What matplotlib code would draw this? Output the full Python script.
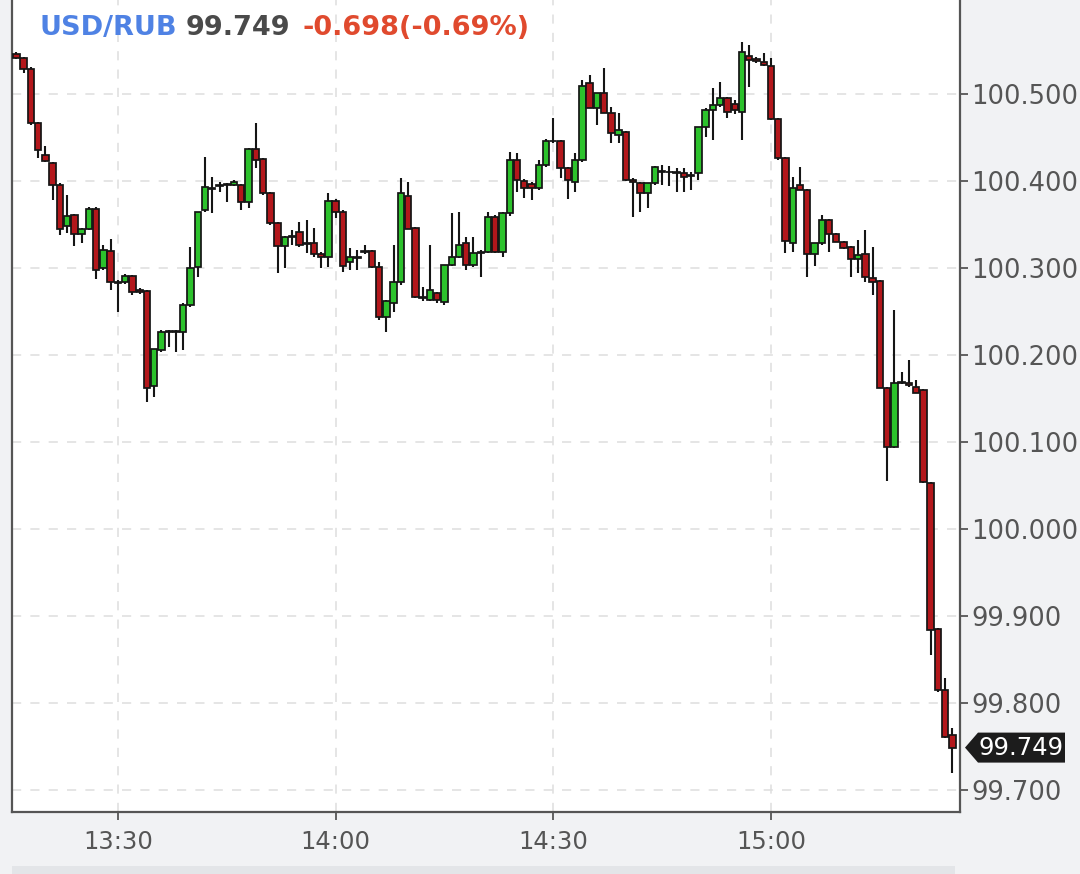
import matplotlib
matplotlib.use("Agg")
import matplotlib.pyplot as plt
from matplotlib.patches import Polygon, Rectangle
import numpy as np

# ---------------- data ----------------
symbol = "USD/RUB"
last_price_text = "99.749"
change_text = "-0.698(-0.69%)"
start_hour, start_min = 13, 16   # first 1-minute candle

opens = [100.546, 100.541, 100.529, 100.467, 100.430, 100.421, 100.395, 100.348, 100.361, 100.339,
         100.345, 100.368, 100.300, 100.320, 100.284, 100.284, 100.291, 100.275, 100.274, 100.164,
         100.206, 100.226, 100.228, 100.226, 100.257, 100.301, 100.367, 100.392, 100.394, 100.396,
         100.396, 100.395, 100.376, 100.437, 100.425, 100.386, 100.352, 100.325, 100.336, 100.341,
         100.328, 100.329, 100.316, 100.313, 100.377, 100.364, 100.307, 100.313, 100.318, 100.320,
         100.301, 100.244, 100.260, 100.284, 100.383, 100.346, 100.267, 100.263, 100.271, 100.261,
         100.303, 100.313, 100.329, 100.303, 100.317, 100.318, 100.359, 100.318, 100.363, 100.424,
         100.400, 100.397, 100.392, 100.418, 100.446, 100.446, 100.415, 100.399, 100.424, 100.513,
         100.484, 100.501, 100.478, 100.453, 100.456, 100.401, 100.398, 100.386, 100.398, 100.410,
         100.410, 100.410, 100.409, 100.407, 100.409, 100.462, 100.482, 100.487, 100.495, 100.489,
         100.479, 100.544, 100.540, 100.537, 100.532, 100.471, 100.426, 100.329, 100.395, 100.390,
         100.316, 100.329, 100.355, 100.339, 100.330, 100.324, 100.310, 100.316, 100.289, 100.285,
         100.162, 100.094, 100.168, 100.168, 100.163, 100.160, 100.053, 99.885, 99.815, 99.763]
highs = [100.548, 100.542, 100.531, 100.468, 100.440, 100.422, 100.398, 100.384, 100.362, 100.346,
         100.370, 100.370, 100.326, 100.333, 100.286, 100.293, 100.292, 100.277, 100.275, 100.207,
         100.229, 100.229, 100.229, 100.260, 100.324, 100.364, 100.428, 100.405, 100.399, 100.398,
         100.401, 100.397, 100.438, 100.467, 100.426, 100.387, 100.353, 100.337, 100.344, 100.353,
         100.355, 100.346, 100.318, 100.386, 100.379, 100.367, 100.323, 100.321, 100.326, 100.321,
         100.307, 100.263, 100.326, 100.403, 100.399, 100.347, 100.278, 100.326, 100.272, 100.304,
         100.363, 100.364, 100.336, 100.336, 100.321, 100.364, 100.361, 100.364, 100.433, 100.432,
         100.402, 100.399, 100.424, 100.448, 100.472, 100.447, 100.416, 100.432, 100.516, 100.522,
         100.501, 100.530, 100.485, 100.478, 100.457, 100.403, 100.399, 100.398, 100.417, 100.418,
         100.417, 100.415, 100.415, 100.410, 100.462, 100.484, 100.507, 100.514, 100.497, 100.493,
         100.560, 100.556, 100.543, 100.547, 100.541, 100.472, 100.428, 100.405, 100.416, 100.391,
         100.329, 100.361, 100.356, 100.340, 100.331, 100.325, 100.332, 100.344, 100.324, 100.286,
         100.163, 100.252, 100.180, 100.194, 100.171, 100.161, 100.054, 99.886, 99.829, 99.771]
lows = [100.540, 100.524, 100.464, 100.426, 100.422, 100.378, 100.338, 100.340, 100.325, 100.329,
        100.344, 100.287, 100.298, 100.275, 100.249, 100.282, 100.269, 100.270, 100.146, 100.152,
        100.203, 100.209, 100.203, 100.206, 100.255, 100.290, 100.364, 100.363, 100.387, 100.376,
        100.394, 100.367, 100.369, 100.415, 100.384, 100.350, 100.294, 100.300, 100.326, 100.324,
        100.317, 100.313, 100.300, 100.301, 100.357, 100.295, 100.298, 100.298, 100.316, 100.300,
        100.240, 100.226, 100.249, 100.281, 100.345, 100.266, 100.262, 100.262, 100.260, 100.257,
        100.302, 100.312, 100.298, 100.301, 100.290, 100.317, 100.317, 100.313, 100.360, 100.387,
        100.380, 100.378, 100.390, 100.416, 100.444, 100.403, 100.379, 100.387, 100.422, 100.484,
        100.464, 100.478, 100.444, 100.444, 100.400, 100.359, 100.364, 100.369, 100.395, 100.395,
        100.394, 100.387, 100.387, 100.390, 100.401, 100.451, 100.447, 100.485, 100.472, 100.477,
        100.447, 100.508, 100.536, 100.532, 100.470, 100.424, 100.317, 100.318, 100.390, 100.290,
        100.302, 100.326, 100.318, 100.330, 100.322, 100.290, 100.294, 100.284, 100.269, 100.162,
        100.055, 100.093, 100.167, 100.163, 100.157, 100.053, 99.855, 99.813, 99.760, 99.720]
closes = [100.541, 100.529, 100.467, 100.436, 100.423, 100.395, 100.345, 100.360, 100.339, 100.345,
          100.368, 100.298, 100.321, 100.284, 100.283, 100.291, 100.272, 100.272, 100.162, 100.207,
          100.226, 100.228, 100.226, 100.257, 100.300, 100.364, 100.393, 100.391, 100.395, 100.397,
          100.399, 100.376, 100.437, 100.424, 100.386, 100.352, 100.325, 100.336, 100.337, 100.326,
          100.329, 100.316, 100.313, 100.377, 100.364, 100.302, 100.313, 100.312, 100.320, 100.301,
          100.244, 100.262, 100.284, 100.386, 100.345, 100.267, 100.266, 100.275, 100.263, 100.303,
          100.313, 100.326, 100.303, 100.317, 100.318, 100.359, 100.318, 100.363, 100.424, 100.401,
          100.392, 100.392, 100.418, 100.446, 100.446, 100.415, 100.401, 100.424, 100.509, 100.484,
          100.501, 100.478, 100.455, 100.459, 100.401, 100.399, 100.386, 100.398, 100.416, 100.411,
          100.410, 100.409, 100.405, 100.406, 100.462, 100.482, 100.487, 100.495, 100.479, 100.482,
          100.548, 100.539, 100.538, 100.533, 100.471, 100.426, 100.331, 100.392, 100.390, 100.316,
          100.329, 100.355, 100.339, 100.330, 100.323, 100.310, 100.315, 100.290, 100.284, 100.162,
          100.094, 100.168, 100.169, 100.166, 100.157, 100.054, 99.884, 99.815, 99.761, 99.749]

y_ticks = [99.7, 99.8, 99.9, 100.0, 100.1, 100.2, 100.3, 100.4, 100.5]
x_tick_labels = ["13:30", "14:00", "14:30", "15:00"]

# ---------------- figure ----------------
W, H = 1080, 874
fig = plt.figure(figsize=(W / 100, H / 100), dpi=100, facecolor="#f1f2f4")
ax = fig.add_axes([12 / W, 1 - 812 / H, 948 / W, 812 / H])
ax.set_facecolor("white")

o = np.array(opens); h = np.array(highs); l = np.array(lows); c = np.array(closes)
t0 = start_hour * 60 + start_min
x = t0 + np.arange(len(o))

RED = "#b3171b"
GREEN = "#2cc22c"
cols = [GREEN if cc >= oo else RED for oo, cc in zip(o, c)]

ax.vlines(x, l, h, color="#151515", linewidth=1.5, zorder=2)
bottoms = np.minimum(o, c)
heights = np.maximum(np.abs(c - o), 0.0004)
ax.bar(x, heights, bottom=bottoms, width=0.88, color=cols, edgecolor="#151515",
       linewidth=1.25, zorder=3)

ax.set_xlim(795.4, 926.05)
ax.set_ylim(99.675, 100.608)

def hm_to_min(s):
    hh, mm = s.split(":")
    return int(hh) * 60 + int(mm)

ax.set_xticks([hm_to_min(s) for s in x_tick_labels])
ax.set_xticklabels(x_tick_labels)
ax.yaxis.tick_right()
ax.set_yticks(y_ticks)
ax.set_yticklabels([f"{v:.3f}" for v in y_ticks])

ax.tick_params(axis="both", colors="#555555", labelcolor="#555555", labelsize=17.5,
               length=6, width=1.3)
ax.tick_params(axis="y", pad=2, labelsize=18.5)
ax.tick_params(axis="x", pad=7)
ax.grid(True, color="#dedede", linestyle=(0, (6, 6)), linewidth=1.1)
ax.set_axisbelow(True)

for side in ["left", "right", "bottom"]:
    ax.spines[side].set_color("#555555")
    ax.spines[side].set_linewidth(1.6)
ax.spines["top"].set_visible(False)

# header
hy = 1 - 28 / H
fig.text(40 / W, hy, symbol, color="#4f82e4", fontsize=19.5, fontweight="bold", va="center")
fig.text(186 / W, hy, last_price_text, color="#4a4a4a", fontsize=19.5, fontweight="bold", va="center")
fig.text(302 / W, hy, change_text, color="#e04a2e", fontsize=19.5, fontweight="bold", va="center")

# current price marker
fig.canvas.draw()
ydisp = ax.transData.transform((x[-1], c[-1]))[1]
yf = ydisp / fig.bbox.height
hh = 15 / H
poly = Polygon([(965 / W, yf), (978 / W, yf + hh), (1065 / W, yf + hh),
                (1065 / W, yf - hh), (978 / W, yf - hh)], closed=True,
               transform=fig.transFigure, facecolor="#1c1c1c", edgecolor="none")
fig.patches.append(poly)
fig.text(1021 / W, yf, f"{c[-1]:.3f}", color="white", fontsize=17.5, ha="center", va="center")

# bottom scrollbar strip
fig.patches.append(Rectangle((12 / W, 0), 943 / W, 8 / H, transform=fig.transFigure,
                             facecolor="#e3e5e8", edgecolor="none"))

fig.savefig("out.png", dpi=100, facecolor=fig.get_facecolor())
